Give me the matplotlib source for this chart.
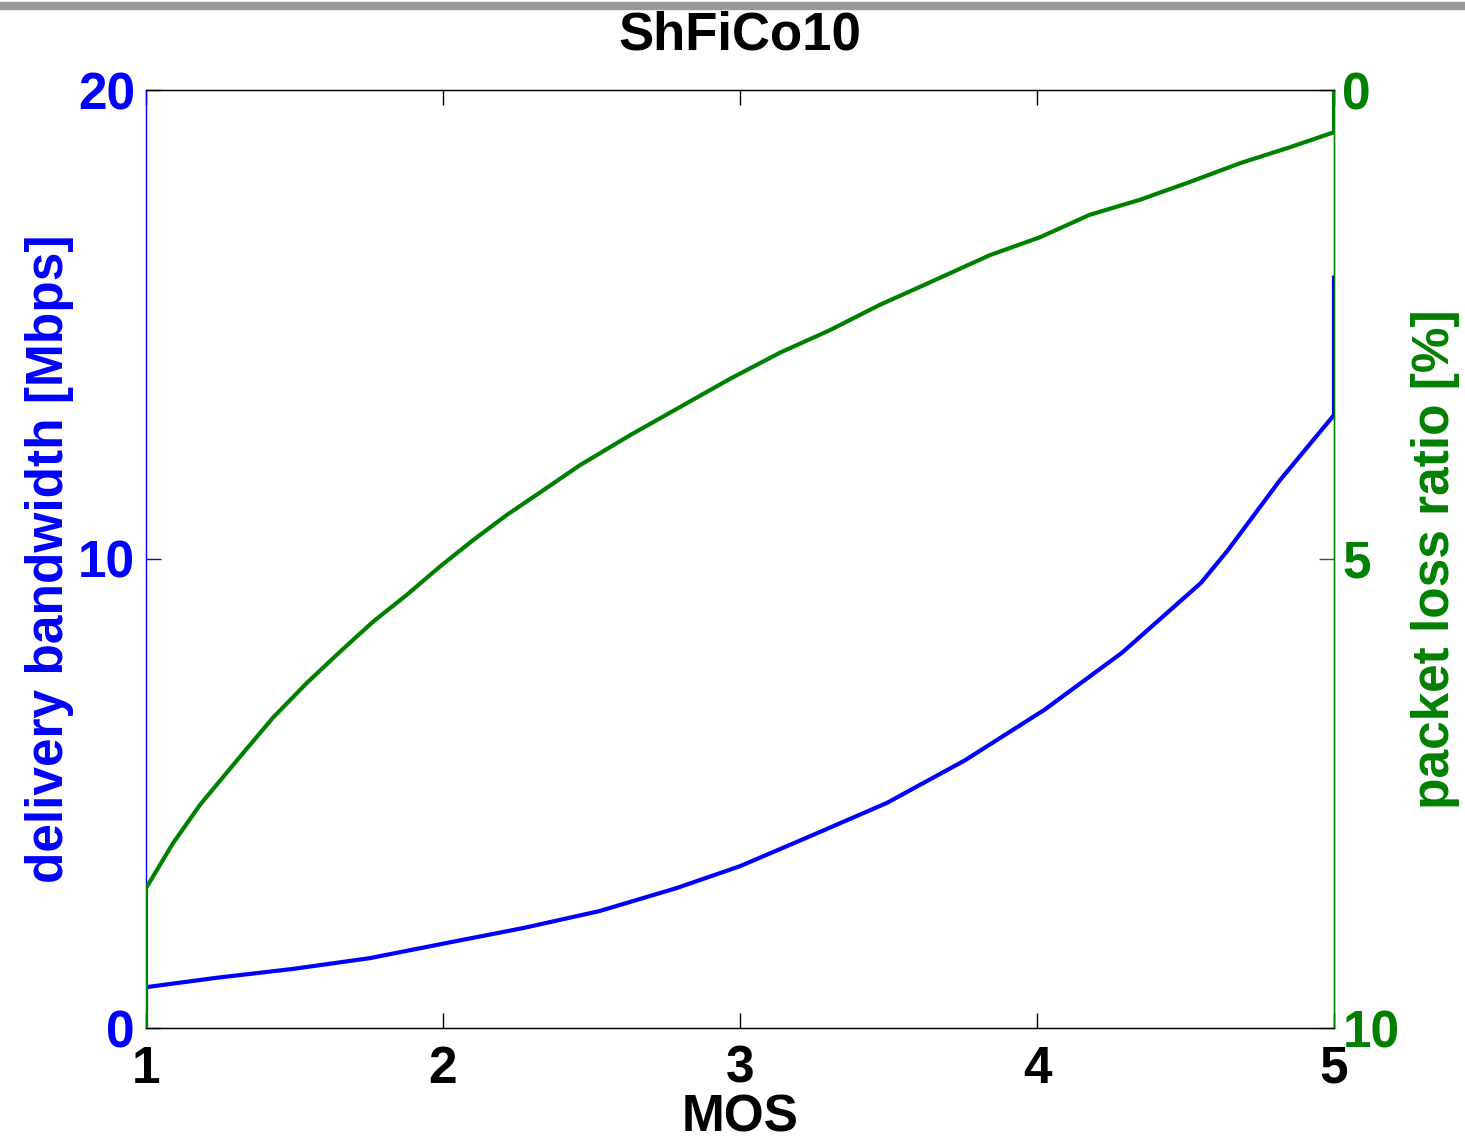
import numpy as np
import matplotlib.pyplot as plt
from matplotlib.patches import Rectangle

plt.rcParams['font.family'] = ['Liberation Sans', 'DejaVu Sans']
plt.rcParams['font.weight'] = 'bold'
plt.rcParams['axes.labelweight'] = 'bold'

# delivery bandwidth [Mbps] vs MOS
mos_bw = [1.0, 1.0, 1.237, 1.495, 1.754, 2.01, 2.269, 2.525, 2.785, 3.0, 3.229, 3.495,
          3.758, 4.024, 4.286, 4.552, 4.643, 4.818, 5.0, 5.0]
bw = [0.0, 0.87, 1.07, 1.26, 1.49, 1.81, 2.13, 2.49, 2.98, 3.45, 4.07, 4.80,
      5.71, 6.78, 8.00, 9.49, 10.19, 11.68, 13.07, 16.0]

# packet loss ratio [%] vs MOS
mos_pl = [1.0, 1.0, 1.091, 1.182, 1.316, 1.428, 1.542, 1.653, 1.764, 1.879, 1.99, 2.101,
          2.215, 2.327, 2.461, 2.63, 2.798, 2.966, 3.135, 3.303, 3.471, 3.64, 3.842,
          4.01, 4.178, 4.347, 4.515, 4.684, 4.852, 5.0, 5.0]
loss = [10.0, 8.51, 8.03, 7.62, 7.11, 6.69, 6.32, 5.99, 5.67, 5.38, 5.08, 4.80,
        4.53, 4.29, 4.00, 3.68, 3.38, 3.08, 2.80, 2.56, 2.29, 2.05, 1.76,
        1.57, 1.33, 1.17, 0.98, 0.78, 0.61, 0.45, 0.0]

blue = '#0000ff'
green = '#008000'
fs = 37

fig = plt.figure(figsize=(14.65, 11.43), dpi=100)
fig.patches.append(Rectangle((0, 1 - 9 / 1143), 1, 7 / 1143, transform=fig.transFigure,
                             color='#999999', zorder=0))

ax1 = fig.add_axes([146 / 1465, 1 - 1028 / 1143, (1334 - 146) / 1465, (1028 - 90) / 1143])
ax1.plot(mos_bw, bw, color=blue, lw=3, solid_joinstyle='round')
ax1.set_xlim(1, 5)
ax1.set_ylim(0, 20)
ax1.set_xticks([1, 2, 3, 4, 5])
ax1.set_yticks([0, 10, 20])
ax1.tick_params(axis='x', direction='in', length=11, width=1, top=True, labelsize=fs, pad=12)
ax1.tick_params(axis='y', direction='in', length=11, width=1, colors=blue, labelsize=fs, pad=8)
ax1.spines['left'].set_color(blue)
for s in ax1.spines.values():
    s.set_linewidth(1)
ax1.set_xlabel('MOS', fontsize=fs, labelpad=0)
ax1.set_ylabel('delivery bandwidth [Mbps]', fontsize=fs, color=blue, labelpad=3)

ax2 = ax1.twinx()
ax2.plot(mos_pl, loss, color=green, lw=3, solid_joinstyle='round')
ax2.set_ylim(10, 0)
ax2.set_yticks([0, 5, 10])
ax2.tick_params(axis='y', direction='in', length=11, width=1, colors=green, labelsize=fs, pad=6)
ax2.spines['right'].set_color(green)
ax2.spines['left'].set_visible(False)
ax2.set_ylabel('packet loss ratio [%]', fontsize=fs, color=green, rotation=90, labelpad=8)

fig.text(740 / 1465, 1 - 35 / 1143, 'ShFiCo10', fontsize=38, ha='center', va='center')

fig.savefig('out.png', dpi=100)
